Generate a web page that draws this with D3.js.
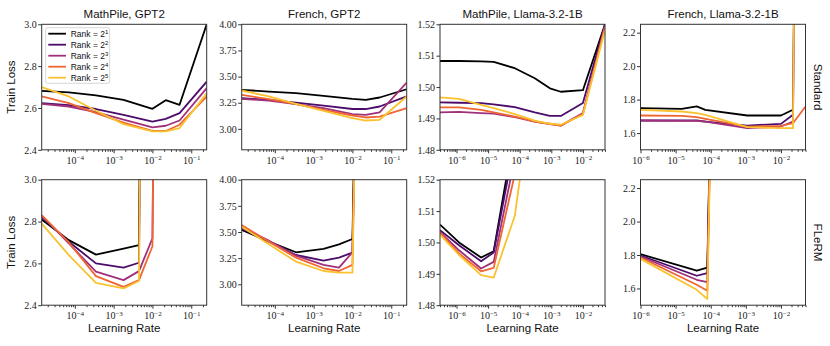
<!DOCTYPE html>
<html>
<head>
<meta charset="utf-8">
<script src="https://cdn.jsdelivr.net/npm/d3@7"></script>
<style>
  body { margin: 0; background: #fff; }
  svg { display: block; }
</style>
</head>
<body>
<svg id="chart" width="830" height="346"></svg>
<script>
// ---- data ----
const rankExps = [1, 2, 3, 4, 5];
const titles = ['MathPile, GPT2', 'French, GPT2', 'MathPile, Llama-3.2-1B', 'French, Llama-3.2-1B'];
const rowNames = ['Standard', 'FLeRM'];

// y tick values
const yTicksGpt2Math = [2.4, 2.6, 2.8, 3.0];
const yTicksGpt2Fr = [3.0, 3.25, 3.5, 3.75, 4.0];
const yTicksLlamaMath = [1.48, 1.49, 1.50, 1.51, 1.52];
const yTicksLlamaFr = [1.6, 1.8, 2.0, 2.2];

// learning rates
const lrGpt2Std = [1.4e-5, 7e-5, 3.5e-4, 1.8e-3, 1e-2, 2.2e-2, 5e-2, 0.25];
const lrGpt2Flerm = [1.4e-5, 7e-5, 3.5e-4, 1.8e-3, 4.5e-3, 1e-2, 2.2e-2];
const lrLlamaMathStd = [3e-7, 1.2e-6, 6e-6, 1.5e-5, 7e-5, 3e-4, 9e-4, 2e-3, 1e-2, 5e-2];
const lrLlamaMathFlerm = [3e-7, 1.2e-6, 6e-6, 1.5e-5, 7e-5, 3e-4];
const lrLlamaFrStd = [1e-6, 1.5e-5, 4e-5, 7e-5, 1.1e-3, 1e-2, 2.2e-2, 5e-2];
const lrLlamaFrFlerm = [1e-6, 4e-5, 8e-5, 5e-4];

// losses, one row per rank (2^1 .. 2^5); null = no run, 10 = diverged
const mathGpt2Std = [
  [2.682, 2.675, 2.66, 2.639, 2.596, 2.637, 2.615, 3.0],
  [2.623, 2.614, 2.595, 2.567, 2.535, 2.548, 2.575, 2.726],
  [2.62, 2.607, 2.58, 2.544, 2.507, 2.515, 2.54, 2.695],
  [2.655, 2.623, 2.575, 2.53, 2.49, 2.49, 2.52, 2.655],
  [2.70, 2.655, 2.587, 2.523, 2.488, 2.488, 2.504, 2.67]
];
const frGpt2Std = [
  [3.373, 3.357, 3.341, 3.316, 3.287, 3.278, 3.30, 3.379],
  [3.293, 3.278, 3.252, 3.223, 3.19, 3.19, 3.214, 3.31],
  [3.287, 3.271, 3.236, 3.198, 3.141, 3.134, 3.157, 3.443],
  [3.325, 3.284, 3.236, 3.182, 3.128, 3.109, 3.118, 3.198],
  [3.367, 3.31, 3.24, 3.173, 3.103, 3.08, 3.087, 3.31]
];
const mathLlamaStd = [
  [1.5083, 1.5083, 1.5082, 1.508, 1.506, 1.5028, 1.4996, 1.4985, 1.499, 1.52],
  [1.4951, 1.495, 1.4949, 1.4945, 1.4936, 1.4919, 1.4908, 1.4908, 1.4949, 1.52],
  [1.4919, 1.4921, 1.4917, 1.4915, 1.4904, 1.489, 1.4882, 1.4877, 1.4917, 1.5193],
  [1.4935, 1.4935, 1.4927, 1.4919, 1.4906, 1.489, 1.4883, 1.4877, 1.4915, 1.5193],
  [1.4967, 1.4962, 1.4943, 1.4933, 1.4914, 1.4893, 1.4883, 1.488, 1.4911, 1.5182]
];
const frLlamaStd = [
  [1.749, 1.745, 1.759, 1.739, 1.705, 1.705, 1.739, null],
  [1.675, 1.675, 1.675, 1.669, 1.645, 1.655, 1.709, 10],
  [1.675, 1.673, 1.673, 1.669, 1.629, 1.639, 1.669, 10],
  [1.705, 1.703, 1.695, 1.685, 1.639, 1.643, 1.659, 1.759],
  [1.739, 1.729, 1.719, 1.709, 1.635, 1.629, 1.629, 10]
];
const mathGpt2Flerm = [
  [2.81, 2.711, 2.642, 2.671, 2.687, 10, null],
  [2.823, 2.703, 2.60, 2.58, 2.603, 10, null],
  [2.828, 2.695, 2.56, 2.52, 2.563, 2.72, 10],
  [2.831, 2.70, 2.539, 2.488, 2.52, 2.682, 10],
  [2.79, 2.639, 2.507, 2.48, 2.516, 10, null]
];
const frGpt2Flerm = [
  [3.519, 3.408, 3.306, 3.338, 3.382, 3.433, 10],
  [3.535, 3.414, 3.28, 3.226, 3.255, 3.303, 10],
  [3.541, 3.417, 3.274, 3.185, 3.159, 3.306, 10],
  [3.567, 3.408, 3.255, 3.153, 3.127, 3.185, 10],
  [3.551, 3.382, 3.217, 3.127, 3.111, 3.111, 10]
];
const mathLlamaFlerm = [
  [1.5057, 1.50, 1.4952, 1.4972, 1.536, null],
  [1.5039, 1.4991, 1.494, 1.4968, 1.532, null],
  [1.5034, 1.4975, 1.4917, 1.4938, 1.527, null],
  [1.5031, 1.4965, 1.4908, 1.4919, 1.5218, null],
  [1.5025, 1.496, 1.4896, 1.4888, 1.5085, 1.555]
];
const frLlamaFlerm = [
  [1.805, 1.706, 1.725, 10],
  [1.797, 1.676, 1.692, 10],
  [1.791, 1.652, 1.638, 10],
  [1.785, 1.622, 1.586, 10],
  [1.777, 1.592, 1.537, 10]
];

const colors = ['#000000', '#4b0c6b', '#a1307b', '#ef6632', '#f9c22e'];

// ---- layout ----
const colLeft = [41.7, 241.7, 440, 640.5];
const rowTop = [24.3, 179.7];
const pw = 165, ph = 125.5;
const sans = 'Liberation Sans, Arial, sans-serif';
const serif = 'Liberation Serif, Times New Roman, serif';

const xDoms = [[1.4e-5, 0.25], [1.4e-5, 0.25], [3e-7, 5e-2], [1e-6, 5e-2]];
const yDoms = [[2.4, 3.0], [2.8, 4.0], [1.48, 1.52], [1.5, 2.25]];
const yTicks = [yTicksGpt2Math, yTicksGpt2Fr, yTicksLlamaMath, yTicksLlamaFr];
const yFmts = ['.1f', '.2f', '.2f', '.1f'];

const panels = [
  { row: 0, col: 0, lr: lrGpt2Std, data: mathGpt2Std },
  { row: 0, col: 1, lr: lrGpt2Std, data: frGpt2Std },
  { row: 0, col: 2, lr: lrLlamaMathStd, data: mathLlamaStd },
  { row: 0, col: 3, lr: lrLlamaFrStd, data: frLlamaStd },
  { row: 1, col: 0, lr: lrGpt2Flerm, data: mathGpt2Flerm },
  { row: 1, col: 1, lr: lrGpt2Flerm, data: frGpt2Flerm },
  { row: 1, col: 2, lr: lrLlamaMathFlerm, data: mathLlamaFlerm },
  { row: 1, col: 3, lr: lrLlamaFrFlerm, data: frLlamaFlerm }
];

const svg = d3.select('#chart');

// write "10^k" style text with a raised exponent
function powText(sel, base, exp, expSize) {
  sel.text(null);
  sel.append('tspan').text(base);
  sel.append('tspan').attr('dy', '-0.5em').attr('font-size', expSize).text(exp);
}

panels.forEach((p, i) => {
  const [lo, hi] = xDoms[p.col];
  const x = d3.scaleLog().domain([lo, hi]).range([0, pw]);
  const y = d3.scaleLinear().domain(yDoms[p.col]).range([ph, 0]);

  const g = svg.append('g')
    .attr('transform', `translate(${colLeft[p.col]},${rowTop[p.row]})`);

  g.append('clipPath').attr('id', 'clip' + i)
    .append('rect').attr('width', pw).attr('height', ph);

  const line = d3.line()
    .defined(d => d[1] != null)
    .x(d => x(d[0]))
    .y(d => y(d[1]));

  const plot = g.append('g').attr('clip-path', `url(#clip${i})`);
  p.data.forEach((vals, k) => {
    plot.append('path')
      .datum(p.lr.map((v, j) => [v, vals[j]]))
      .attr('fill', 'none')
      .attr('stroke', colors[k])
      .attr('stroke-width', 1.8)
      .attr('stroke-linejoin', 'round')
      .attr('d', line);
  });

  // log ticks
  const kLo = Math.floor(Math.log10(lo) + 1e-9), kHi = Math.ceil(Math.log10(hi) - 1e-9);
  const majors = [], minors = [];
  for (let k = kLo; k <= kHi; k++) {
    const v = Math.pow(10, k);
    if (v >= lo * 0.999 && v <= hi * 1.001) majors.push(v);
    for (let m = 2; m <= 9; m++) {
      const mv = m * v;
      if (mv >= lo && mv <= hi) minors.push(mv);
    }
  }

  const xMinor = g.append('g')
    .attr('transform', `translate(0,${ph})`)
    .call(d3.axisBottom(x).tickValues(minors).tickSize(2).tickFormat(''));
  xMinor.select('.domain').remove();
  xMinor.attr('color', '#333');

  const xMajor = g.append('g')
    .attr('transform', `translate(0,${ph})`)
    .call(d3.axisBottom(x).tickValues(majors).tickSize(3.5).tickFormat(''));
  xMajor.select('.domain').remove();
  xMajor.attr('color', '#333');
  xMajor.selectAll('.tick text')
    .attr('y', 14).attr('dy', null)
    .attr('font-family', serif).attr('font-size', 10).attr('fill', '#222')
    .each(function (d) {
      const e = Math.round(Math.log10(d));
      powText(d3.select(this), '10', (e < 0 ? '\u2212' : '') + Math.abs(e), 7);
    });

  const yAxis = g.append('g')
    .call(d3.axisLeft(y).tickValues(yTicks[p.col]).tickSize(3.5).tickPadding(1.5)
      .tickFormat(d3.format(yFmts[p.col])));
  yAxis.select('.domain').remove();
  yAxis.attr('color', '#333');
  yAxis.selectAll('.tick text')
    .attr('font-family', serif).attr('font-size', 10).attr('fill', '#222');

  g.append('rect')
    .attr('width', pw).attr('height', ph)
    .attr('fill', 'none').attr('stroke', '#333').attr('stroke-width', 1);

  if (p.row === 0) {
    g.append('text')
      .attr('x', pw / 2).attr('y', -6)
      .attr('text-anchor', 'middle')
      .attr('font-family', sans).attr('font-size', 11.5).attr('fill', '#111')
      .text(titles[p.col]);
  } else {
    g.append('text')
      .attr('x', pw / 2).attr('y', ph + 27)
      .attr('text-anchor', 'middle')
      .attr('font-family', sans).attr('font-size', 11.5).attr('fill', '#111')
      .text('Learning Rate');
  }

  if (p.col === 0) {
    g.append('text')
      .attr('transform', `translate(-27,${ph / 2}) rotate(-90)`)
      .attr('text-anchor', 'middle')
      .attr('font-family', sans).attr('font-size', 11.5).attr('fill', '#111')
      .text('Train Loss');
  }
  if (p.col === 3) {
    g.append('text')
      .attr('transform', `translate(${pw + 8},${ph / 2}) rotate(90)`)
      .attr('text-anchor', 'middle')
      .attr('font-family', sans).attr('font-size', 11.5).attr('fill', '#111')
      .text(rowNames[p.row]);
  }

  // legend in the first panel
  if (i === 0) {
    const lg = g.append('g').attr('transform', 'translate(4,3.4)');
    lg.append('rect')
      .attr('width', 64).attr('height', 55.6).attr('rx', 2)
      .attr('fill', 'rgba(255,255,255,0.85)').attr('stroke', '#ccc').attr('stroke-width', 0.8);
    rankExps.forEach((r, k) => {
      const ly = 6 + 11 * k;
      lg.append('line')
        .attr('x1', 2.6).attr('x2', 20.3).attr('y1', ly).attr('y2', ly)
        .attr('stroke', colors[k]).attr('stroke-width', 1.8);
      const t = lg.append('text')
        .attr('x', 25).attr('y', ly + 3)
        .attr('font-family', sans).attr('font-size', 8.5).attr('fill', '#111');
      powText(t, 'Rank = 2', String(r), 6);
    });
  }
});
</script>
</body>
</html>
